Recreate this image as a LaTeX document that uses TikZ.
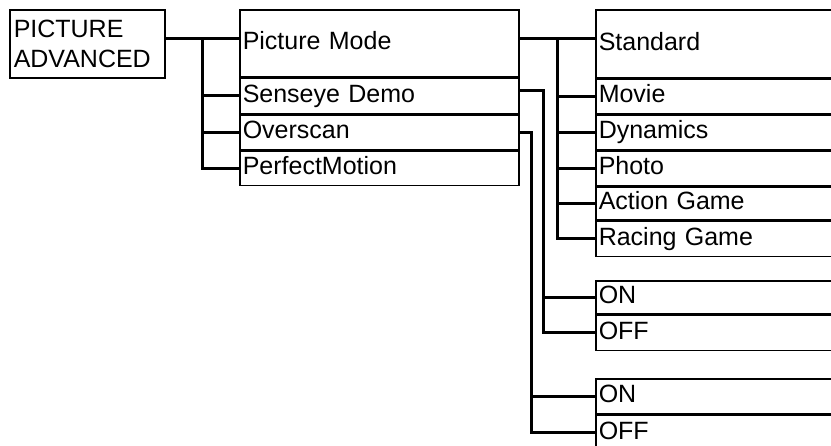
\documentclass[tikz,border=0pt]{standalone}
\usepackage{fontspec}
\setmainfont{Liberation Sans}
\usetikzlibrary{positioning}

\begin{document}
\begin{tikzpicture}[
  x=1pt, y=-1pt,
  font=\fontsize{25}{30}\selectfont,
  menubox/.style={draw, line width=1.5pt, align=left, inner xsep=3pt, inner ysep=0pt},
  menurow/.style={menubox, text height=18pt, text depth=5pt, text width=#1},
  midrow/.style={menurow=273pt},
  optrow/.style={menurow=299pt},
  conn/.style={line width=3pt}
]
  \useasboundingbox (0,0) rectangle (831,445);
  \clip (0,0) rectangle (831,445);

  \node[menubox, anchor=north west, text width=147pt, inner xsep=4pt,
        minimum height=68pt] (root) at (9,9) {PICTURE\\ADVANCED};

  % menu items
  \node[midrow, anchor=north west, minimum height=67pt] (pm) at (239,9) {Picture Mode};
  \node[midrow, minimum height=35pt, below=0pt of pm] (sd) {Senseye Demo};
  \node[midrow, minimum height=35pt, below=0pt of sd] (ov) {Overscan};
  \node[midrow, minimum height=34pt, below=0pt of ov] (pf) {PerfectMotion};

  % picture modes
  \node[optrow, anchor=north west, minimum height=68pt] (std) at (595,9) {Standard};
  \node[optrow, minimum height=34pt, below=0pt of std] (mov) {Movie};
  \node[optrow, minimum height=35pt, below=0pt of mov] (dyn) {Dynamics};
  \node[optrow, minimum height=34pt, below=0pt of dyn] (pho) {Photo};
  \node[optrow, minimum height=33pt, below=0pt of pho] (act) {Action Game};
  \node[optrow, minimum height=35pt, below=0pt of act] (rac) {Racing Game};

  % on/off choices
  \node[optrow, anchor=north west, minimum height=33pt] (on1) at (595,280) {ON};
  \node[optrow, minimum height=35pt, below=0pt of on1] (off1) {OFF};
  \node[optrow, anchor=north west, minimum height=35pt] (on2) at (595,378) {ON};
  \node[optrow, minimum height=35pt, below=0pt of on2] (off2) {OFF};

  \coordinate (busA) at (202,0);
  \coordinate (busB) at (557,0);
  \coordinate (busC) at (543,0);
  \coordinate (busD) at (531,0);

  \draw[conn] ([yshift=5pt]root.east) -- ([yshift=5pt]root.east -| pm.west);
  \foreach \n in {sd,ov,pf}
    \draw[conn] ([yshift=5pt]root.east -| busA) |- (\n.west);

  \draw[conn] ([yshift=5pt]pm.east) -- ([yshift=5pt]pm.east -| std.west);
  \foreach \n in {mov,dyn,pho,act,rac}
    \draw[conn] ([yshift=5pt]pm.east -| busB) |- (\n.west);

  \draw[conn] ([yshift=5pt]sd.east) -| (busC |- off1.west) -- (off1.west);
  \draw[conn] (busC |- on1.west) -- (on1.west);
  \draw[conn] (ov.east) -| (busD |- off2.west) -- (off2.west);
  \draw[conn] (busD |- on2.west) -- (on2.west);
\end{tikzpicture}
\end{document}
